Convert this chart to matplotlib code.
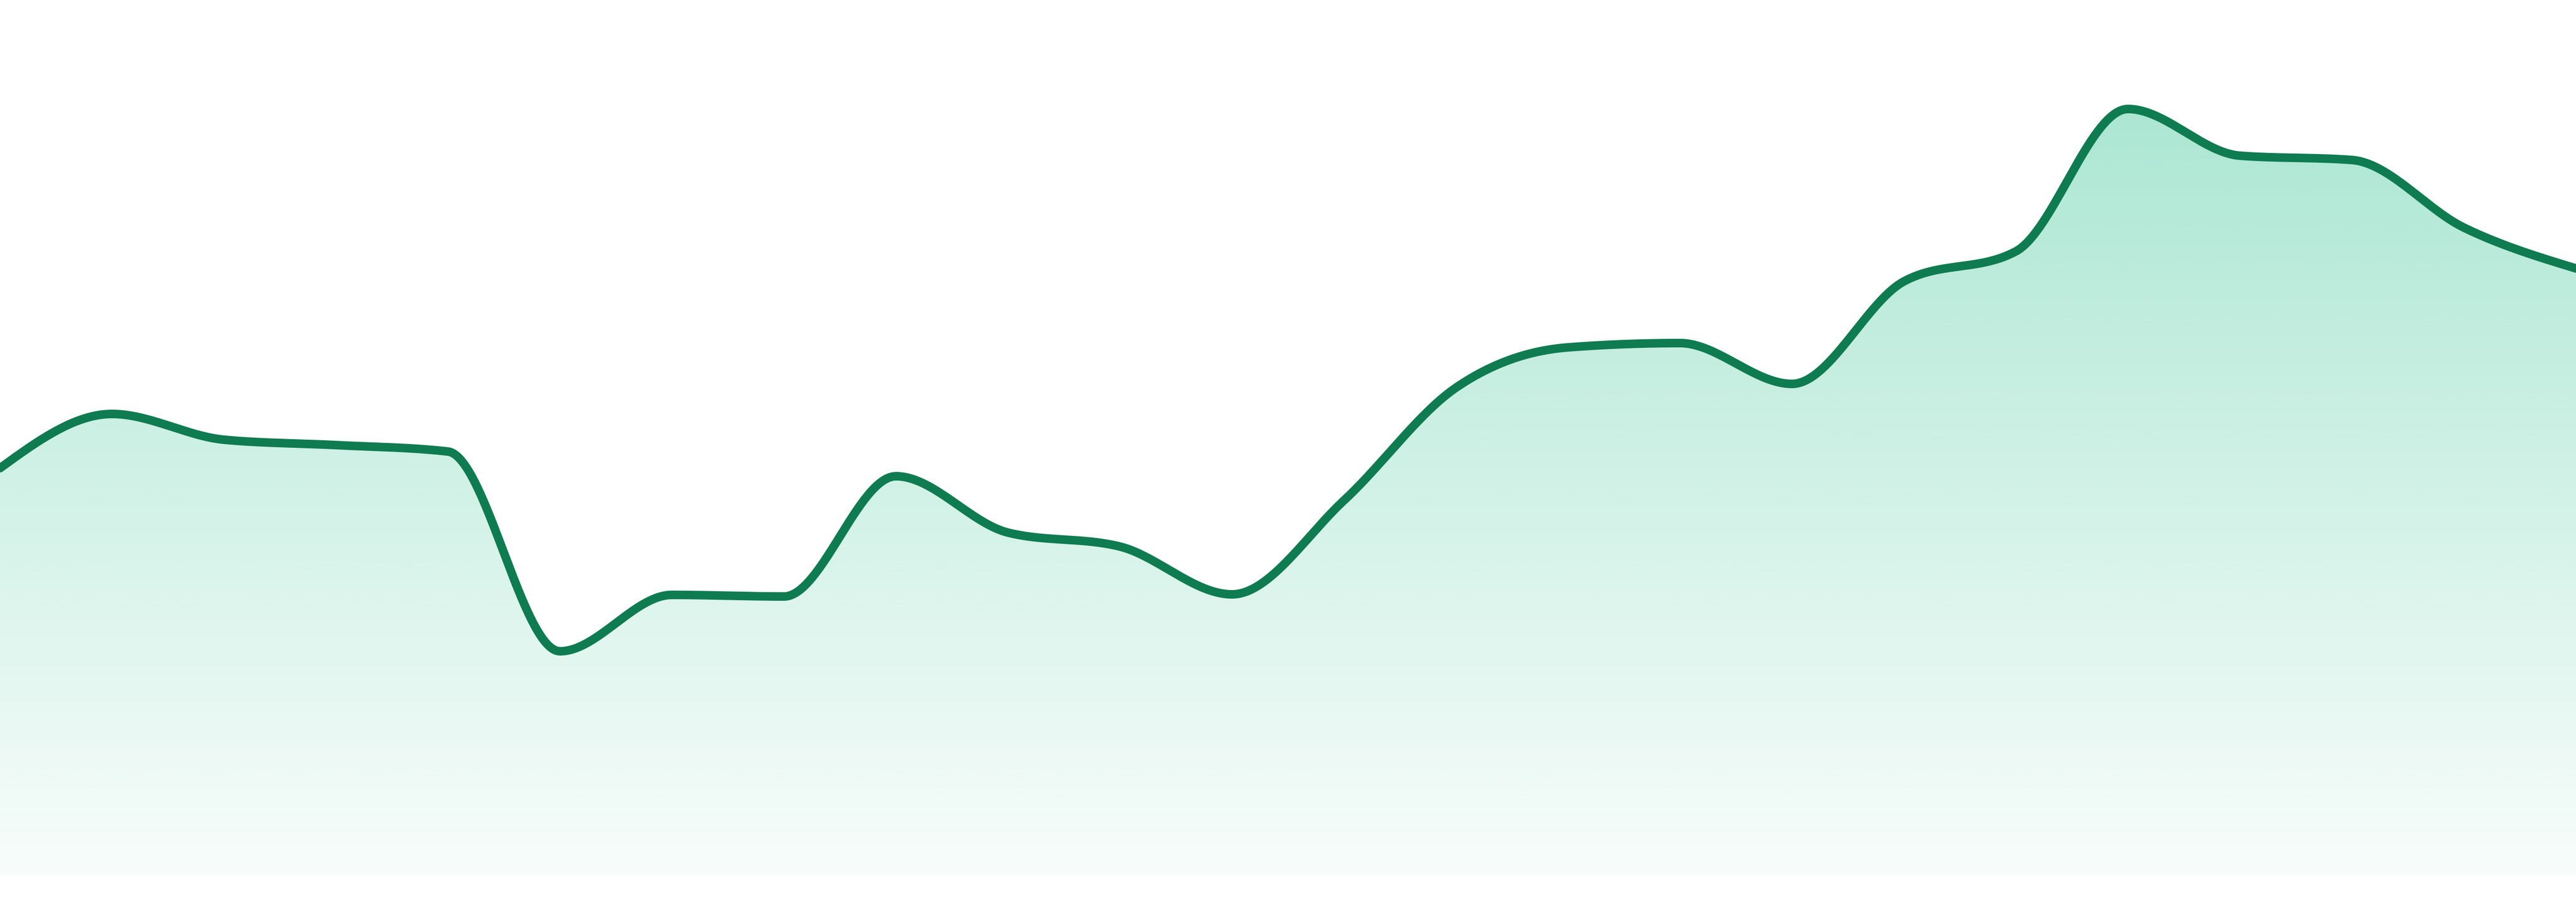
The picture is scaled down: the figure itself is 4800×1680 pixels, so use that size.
import numpy as np
import matplotlib
matplotlib.use("Agg")
import matplotlib.pyplot as plt
from matplotlib.colors import to_rgb

# one value per step
steps = list(range(24))
values = [76.0, 86.1, 81.3, 80.3, 79.1, 41.9, 52.4, 52.1, 74.5, 64.0, 61.4, 52.5,
          70.0, 91.0, 98.5, 99.3, 91.7, 110.8, 116.4, 142.9, 134.2, 133.4, 120.8, 113.2]

LINE_COLOR = "#0f7b51"
FILL_COLOR = "#10b981"


def monotone_slopes(x, y):
   # same rule as d3.curveMonotoneX (Steffen)
   n = len(x)
   h = np.diff(x)
   s = np.diff(y) / h
   t = np.zeros(n)
   for i in range(1, n - 1):
      p = (s[i - 1] * h[i] + s[i] * h[i - 1]) / (h[i - 1] + h[i])
      t[i] = (np.sign(s[i - 1]) + np.sign(s[i])) * min(abs(s[i - 1]), abs(s[i]), 0.5 * abs(p))
   t[0] = (3 * s[0] - t[1]) / 2
   t[-1] = (3 * s[-1] - t[-2]) / 2
   return t


def smooth_curve(x, y, per_seg=60):
   x = np.asarray(x, float)
   y = np.asarray(y, float)
   t = monotone_slopes(x, y)
   xs, ys = [], []
   for i in range(len(x) - 1):
      h = x[i + 1] - x[i]
      u = np.linspace(0, 1, per_seg, endpoint=(i == len(x) - 2))
      h00 = 2 * u**3 - 3 * u**2 + 1
      h10 = u**3 - 2 * u**2 + u
      h01 = -2 * u**3 + 3 * u**2
      h11 = u**3 - u**2
      xs.append(x[i] + u * h)
      ys.append(h00 * y[i] + h10 * h * t[i] + h01 * y[i + 1] + h11 * h * t[i + 1])
   return np.concatenate(xs), np.concatenate(ys)


fig = plt.figure(figsize=(16, 5.6), dpi=300)
ax = fig.add_axes([0, 48 / 1680, 1, 1632 / 1680])
ymax = 163.2

cx, cy = smooth_curve(steps, values)

# gradient under the line
top = max(values)
grad = np.linspace(0, ymax, 400)
alpha = np.clip(0.03 + (0.35 - 0.03) * grad / top, 0, 0.36)
rgba = np.zeros((len(grad), 1, 4))
rgba[:, 0, :3] = to_rgb(FILL_COLOR)
rgba[:, 0, 3] = alpha
img = ax.imshow(rgba, extent=[steps[0], steps[-1], 0, ymax], origin="lower",
                aspect="auto", interpolation="bilinear", zorder=1)
poly = ax.fill_between(cx, 0, cy, color="none", lw=0)
clip = poly.get_paths()[0]
img.set_clip_path(clip, transform=ax.transData)

ax.plot(cx, cy, color=LINE_COLOR, lw=3.84, solid_capstyle="round", zorder=3)

ax.set_xlim(steps[0], steps[-1])
ax.set_ylim(0, ymax)
ax.axis("off")

fig.savefig("out.png", dpi=300)
